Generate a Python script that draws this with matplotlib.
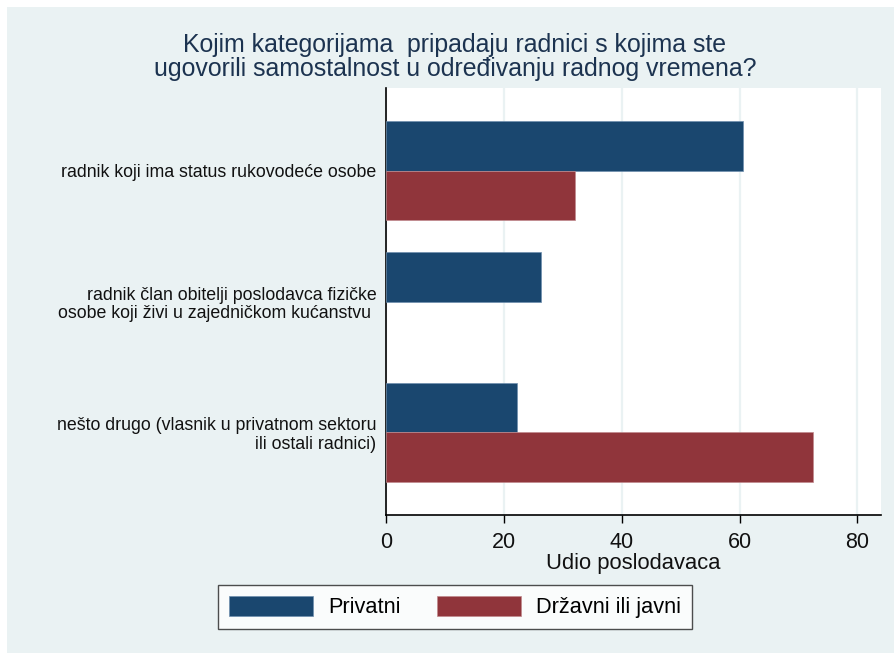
import matplotlib
matplotlib.use("Agg")
import matplotlib.pyplot as plt
import numpy as np
from matplotlib.patches import Rectangle

categories = [
    "radnik koji ima status rukovodeće osobe",
    "radnik član obitelji poslodavca fizičke\nosobe koji živi u zajedničkom kućanstvu ",
    "nešto drugo (vlasnik u privatnom sektoru\nili ostali radnici)",
]
series_names = ["Privatni", "Državni ili javni"]
privatni = [60.6, 26.3, 22.2]
drzavni = [32.1, 0.0, 72.5]
xticks = [0, 20, 40, 60, 80]
title = "Kojim kategorijama  pripadaju radnici s kojima ste\nugovorili samostalnost u određivanju radnog vremena?"
xlabel = "Udio poslodavaca"

navy = "#1a476f"
maroon = "#90353b"
bg = "#eaf2f3"

plt.rcParams['font.family'] = ['Liberation Sans', 'DejaVu Sans']

fig = plt.figure(figsize=(8.95, 6.53), dpi=100)
fig.patch.set_facecolor("white")
fig.patches.append(Rectangle((7/895, 0), 1, 1 - 7/653, transform=fig.transFigure,
                             facecolor=bg, edgecolor="none", zorder=-10))

ax = fig.add_axes([386/895, 1 - 515/653, (881-386)/895, (515-88)/653])
ax.set_facecolor("white")

y = np.arange(len(categories))
h = 0.375
ax.barh(y - h/2, privatni, height=h, color=navy, edgecolor="#6f8fae",
        linewidth=[0.5 if v > 0 else 0 for v in privatni], zorder=3)
ax.barh(y + h/2, drzavni, height=h, color=maroon, edgecolor="#c08a8e",
        linewidth=[0.5 if v > 0 else 0 for v in drzavni], zorder=3)

ax.set_ylim(2.63, -0.63)
ax.set_xlim(0, 84)
ax.set_xticks(xticks)
ax.set_xticklabels([str(t) for t in xticks], fontsize=15.5, color="#111111")
ax.tick_params(axis="x", length=6, width=1, color="black", pad=6)
ax.set_yticks(y)
ax.set_yticklabels(categories, fontsize=12.8, color="#111111", linespacing=1.1)
ax.tick_params(axis="y", length=0, pad=7)
ax.grid(axis="x", color=bg, linewidth=1.6, zorder=0)
for s in ["top", "right"]:
    ax.spines[s].set_visible(False)
ax.spines["left"].set_color("black")
ax.spines["bottom"].set_color("black")
ax.spines["left"].set_linewidth(1.2)
ax.spines["bottom"].set_linewidth(1.2)

ax.set_xlabel(xlabel, fontsize=15.8, color="#111111", labelpad=0)

fig.text(455/895, 1 - 57/653, title, ha="center", va="center", fontsize=17.9,
         color="#1c3350", linespacing=1.02)

handles = [Rectangle((0, 0), 1, 1, facecolor=navy, edgecolor="#6f8fae", linewidth=0.5),
           Rectangle((0, 0), 1, 1, facecolor=maroon, edgecolor="#c08a8e", linewidth=0.5)]
leg = fig.legend(handles, series_names, loc="center", bbox_to_anchor=(455/895, 1 - 607/653),
                 ncol=2, fontsize=15.7, frameon=True, fancybox=False, edgecolor="#222222",
                 handlelength=3.85, handleheight=1.05, columnspacing=1.65, handletextpad=0.7,
                 borderpad=0.5, borderaxespad=0)
leg.get_frame().set_linewidth(1.0)

fig.savefig("out.png", dpi=100, facecolor=fig.get_facecolor())
